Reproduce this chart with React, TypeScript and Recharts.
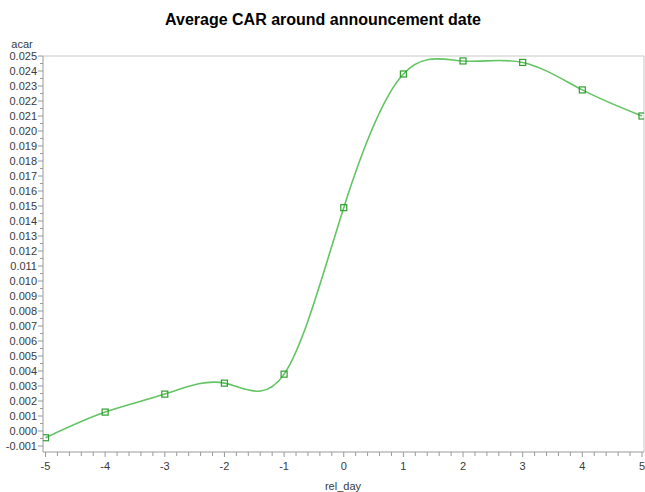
import React from "react";
import { LineChart, Line, XAxis, YAxis, ReferenceLine } from "recharts";

const relDays = [-5, -4, -3, -2, -1, 0, 1, 2, 3, 4, 5];
const acarValues = [-0.00045, 0.00126, 0.00246, 0.00319, 0.00379, 0.01489, 0.0238, 0.02467, 0.02457, 0.02274, 0.0210];
const xMajorTicks = [-5, -4, -3, -2, -1, 0, 1, 2, 3, 4, 5];
const yMajorTicks = [-0.001, 0, 0.001, 0.002, 0.003, 0.004, 0.005, 0.006, 0.007, 0.008, 0.009, 0.010, 0.011, 0.012, 0.013, 0.014, 0.015, 0.016, 0.017, 0.018, 0.019, 0.020, 0.021, 0.022, 0.023, 0.024, 0.025];

const data = relDays.map((d, i) => ({ rel_day: d, acar: acarValues[i] }));

const xTicks: number[] = [];
xMajorTicks.forEach((t, i) => {
  xTicks.push(t);
  if (i < xMajorTicks.length - 1) for (let k = 1; k < 5; k++) xTicks.push(+(t + k * 0.2).toFixed(2));
});
const yTicks: number[] = [];
yMajorTicks.forEach((t, i) => {
  yTicks.push(t);
  if (i < yMajorTicks.length - 1) yTicks.push(+(t + 0.0005).toFixed(4));
});

const isMajor = (v: number, arr: number[]) => arr.some((m) => Math.abs(m - v) < 1e-9);

const FONT = "'Liberation Sans', Arial, sans-serif";
const TEXT = "#3a3a3a";
const AXIS = "#9a9a9a";

const XTick = (props: any) => {
  const { x, y, payload } = props;
  const major = isMajor(payload.value, xMajorTicks);
  return (
    <g>
      <line x1={x} x2={x} y1={y} y2={y + (major ? 5 : 4)} stroke={AXIS} />
      {major && (
        <text x={x} y={y + 18} textAnchor="middle" fontSize={11} fontFamily={FONT} fill={TEXT}>
          {String(payload.value)}
        </text>
      )}
    </g>
  );
};

const YTick = (props: any) => {
  const { x, y, payload } = props;
  const major = isMajor(payload.value, yMajorTicks);
  return (
    <g>
      <line x1={x} x2={x - (major ? 5 : 3)} y1={y} y2={y} stroke={AXIS} />
      {major && (
        <text x={x - 6} y={y + 4} textAnchor="end" fontSize={11} fontFamily={FONT} fill={TEXT}>
          {payload.value.toFixed(3)}
        </text>
      )}
    </g>
  );
};

const SquareDot = (props: any) => {
  const { cx, cy } = props;
  if (cx == null || cy == null) return null;
  return <rect x={cx - 3} y={cy - 3} width={6} height={6} fill="none" stroke="#2f9e2f" strokeWidth={1.2} />;
};

export default function App() {
  return (
    <div style={{ position: "absolute", left: 0, top: 0, width: 645, height: 492, background: "#fff" }}>
      <LineChart width={645} height={492} data={data} margin={{ top: 56, right: 1, bottom: 0, left: 0 }}>
        <text x={323} y={25} textAnchor="middle" fontSize={16} fontWeight="bold" fontFamily={FONT} fill="#000">
          Average CAR around announcement date
        </text>
        <text x={22} y={48} textAnchor="middle" fontSize={11} fontFamily={FONT} fill={TEXT}>
          acar
        </text>
        <text x={343} y={490} textAnchor="middle" fontSize={11} fontFamily={FONT} fill={TEXT}>
          rel_day
        </text>
        <XAxis
          dataKey="rel_day"
          type="number"
          domain={[-5.042, 5.034]}
          ticks={xTicks}
          interval={0}
          tickSize={0}
          tickMargin={0}
          tick={<XTick />}
          tickLine={false}
          axisLine={{ stroke: AXIS }}
          height={40}
          allowDataOverflow
        />
        <YAxis
          type="number"
          domain={[-0.0014, 0.025]}
          ticks={yTicks}
          interval={0}
          tickSize={0}
          tickMargin={0}
          tick={<YTick />}
          tickLine={false}
          axisLine={{ stroke: AXIS }}
          width={43}
          allowDataOverflow
        />
        <ReferenceLine y={0.025} stroke="#c8c8c8" />
        <ReferenceLine x={5.034} stroke="#c8c8c8" />
        <Line
          type="natural"
          dataKey="acar"
          stroke="#62c462"
          strokeWidth={1.6}
          dot={<SquareDot />}
          activeDot={false}
          isAnimationActive={false}
        />
      </LineChart>
    </div>
  );
}
